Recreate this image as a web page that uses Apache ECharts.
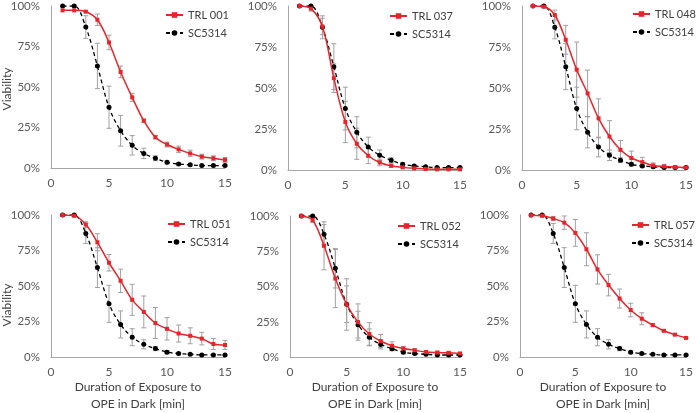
<!DOCTYPE html>
<html>
<head>
<meta charset="utf-8">
<script src="https://cdn.jsdelivr.net/npm/echarts@6/dist/echarts.min.js"></script>
<style>
html,body{margin:0;padding:0;background:#fff;}
#chart{width:696px;height:413px;}
</style>
</head>
<body>
<div id="chart"></div>
<script>
// ---- data ----
const minutes = [1,2,3,4,5,6,7,8,9,10,11,12,13,14,15];
const xTicks = [0,5,10,15];
const yTicks = ['0%','25%','50%','75%','100%'];

const sc5314    = [100,100,87,63,37.5,23,14,9,6,3.5,2.5,2,1.5,1.5,1.5];
const sc5314Err = [0,0.5,7,14,13,9.5,6,3.2,1.5,1,0.7,0.5,0.4,0.4,0.4];

const trlNames = ['TRL 001','TRL 037','TRL 048','TRL 051','TRL 052','TRL 057'];

const trl001    = [97.3,97.3,96.5,91.5,77.5,59.3,43.6,29.2,19,14.5,11.5,9,7,6,5];
const trl001Err = [0,0,0.5,3.5,4.5,3.6,2.5,1,1,1.5,2,2,1.5,1.5,1.5];
const trl037    = [100,98.4,87.5,56,29.3,16,8.7,4.6,2.6,1.6,1,0.6,0.4,0.4,0.4];
const trl037Err = [0,1.5,5,8.7,12.6,9.5,4.8,2,1,0.5,0.3,0.2,0.2,0.2,0.2];
const trl048    = [100,99.6,94.5,79.4,61.2,46.7,31.5,20.4,12.3,7.3,4.8,2.8,2.2,1.8,1.6];
const trl048Err = [0,0.5,3,8.8,16.8,14.2,11.9,9.7,5.7,4.2,2.9,1.5,1,0.8,0.5];
const trl051    = [100,99.5,93.3,80.8,66.4,53.7,40.3,31.8,24,19.9,16.6,15,13,9.2,8.5];
const trl051Err = [0,0.5,2,6,5.8,8.2,10.9,11.2,10.9,7.9,6,5.6,4.4,3.9,3.1];
const trl052    = [100,97,78.9,55.7,37.3,24.8,16.4,11.4,8,6.1,4.8,3.6,3.2,3,2.5];
const trl052Err = [0,1.5,17,20.6,18.2,12.9,8,4.6,2.8,1.5,1.2,1,1,1,1];
const trl057    = [99.8,99.5,97.5,94.6,87.4,75.9,61.7,50.7,41.2,33.1,27,22.5,18.5,15.8,13.5];
const trl057Err = [0,0,1.5,4.7,9.4,11.6,10.3,7.6,6.7,4.8,4.2,1,0.5,0.5,0.5];

const trlValues = [trl001,trl037,trl048,trl051,trl052,trl057];
const trlErrors = [trl001Err,trl037Err,trl048Err,trl051Err,trl052Err,trl057Err];

// ---- layout ----
const grids = [
  {left:51, top:5,   width:174, height:163},
  {left:288,top:5,   width:172, height:165},
  {left:522,top:5,   width:169, height:165},
  {left:51, top:215, width:174, height:149},
  {left:290,top:216, width:170, height:146},
  {left:520,top:215, width:172, height:148}
];
const legendPos = [
  {left:165, top:8},
  {left:389, top:9},
  {left:632, top:7},
  {left:167, top:217},
  {left:397, top:219},
  {left:631, top:218}
];

const FONT = 'Lato, "Liberation Sans", sans-serif';
const AXIS_GREY = '#a6a6a6';
const ERR_GREY = '#a0a0a0';
const RED = '#e8232a';

function errorSeries(idx, vals, errs){
  return {
    type:'custom', xAxisIndex:idx, yAxisIndex:idx, silent:true, z:3,
    data: minutes.map((m,i)=>[m, vals[i]-errs[i], vals[i]+errs[i]]),
    renderItem: function(params, api){
      const x = api.value(0);
      const lo = api.coord([x, api.value(1)]);
      const hi = api.coord([x, api.value(2)]);
      if (Math.abs(hi[1]-lo[1]) < 1) return null;
      const cap = 2.5;
      const st = {stroke:ERR_GREY, lineWidth:1};
      return {type:'group', children:[
        {type:'line', shape:{x1:lo[0],y1:lo[1],x2:hi[0],y2:hi[1]}, style:st},
        {type:'line', shape:{x1:lo[0]-cap,y1:lo[1],x2:lo[0]+cap,y2:lo[1]}, style:st},
        {type:'line', shape:{x1:hi[0]-cap,y1:hi[1],x2:hi[0]+cap,y2:hi[1]}, style:st}
      ]};
    }
  };
}

const option = {
  animation:false,
  backgroundColor:'#fff',
  textStyle:{fontFamily:FONT},
  grid: grids.map(g=>Object.assign({containLabel:false}, g)),
  xAxis: grids.map((g,i)=>({
    type:'value', gridIndex:i, min:xTicks[0], max:xTicks[xTicks.length-1], interval:5,
    axisLine:{show:true, lineStyle:{color:AXIS_GREY, width:1}},
    axisTick:{show:false}, splitLine:{show:false},
    axisLabel:{color:'#595959', fontSize:12, margin:9, fontFamily:FONT},
    name: i>=3 ? 'Duration of Exposure to\nOPE in Dark [min]' : '',
    nameLocation:'middle', nameGap:19,
    nameTextStyle:{color:'#404040', fontSize:12, lineHeight:16.5, fontFamily:FONT, verticalAlign:'top'}
  })),
  yAxis: grids.map((g,i)=>({
    type:'value', gridIndex:i, min:0, max:100, interval:25,
    axisLine:{show:true, lineStyle:{color:AXIS_GREY, width:1}},
    axisTick:{show:false}, splitLine:{show:false},
    axisLabel:{color:'#595959', fontSize:11.5, margin:11, fontFamily:FONT,
      formatter:(v)=>yTicks[Math.round(v/25)]}
  })),
  legend: grids.map((g,i)=>({
    orient:'vertical', left:legendPos[i].left, top:legendPos[i].top,
    padding:0,
    itemWidth:17, itemHeight:7, itemGap:4,
    data:[trlNames[i],'SC5314'],
    textStyle:{color:'#404040', fontSize:11, lineHeight:14, fontFamily:FONT},
    selectedMode:false
  })),
  graphic:[
    {type:'text', x:7, y:89, rotation:Math.PI/2, style:{text:'Viability', fill:'#404040', font:'12px '+FONT, align:'center', verticalAlign:'middle'}},
    {type:'text', x:7, y:305, rotation:Math.PI/2, style:{text:'Viability', fill:'#404040', font:'12px '+FONT, align:'center', verticalAlign:'middle'}}
  ],
  series: []
};

grids.forEach((g,i)=>{
  option.series.push(errorSeries(i, sc5314, sc5314Err));
  option.series.push(errorSeries(i, trlValues[i], trlErrors[i]));
  option.series.push({
    name:'SC5314', type:'line', xAxisIndex:i, yAxisIndex:i, smooth:0.35, z:4,
    data: minutes.map((m,k)=>[m, sc5314[k]]),
    symbol:'circle', symbolSize:5,
    lineStyle:{color:'#000', width:1.3, type:[4,3]},
    itemStyle:{color:'#000'}
  });
  option.series.push({
    name:trlNames[i], type:'line', xAxisIndex:i, yAxisIndex:i, smooth:0.35, z:5,
    data: minutes.map((m,k)=>[m, trlValues[i][k]]),
    symbol:'rect', symbolSize:4,
    lineStyle:{color:RED, width:1.5},
    itemStyle:{color:RED}
  });
});

const chart = echarts.init(document.getElementById('chart'), null, {renderer:'canvas'});
chart.setOption(option);
</script>
</body>
</html>
